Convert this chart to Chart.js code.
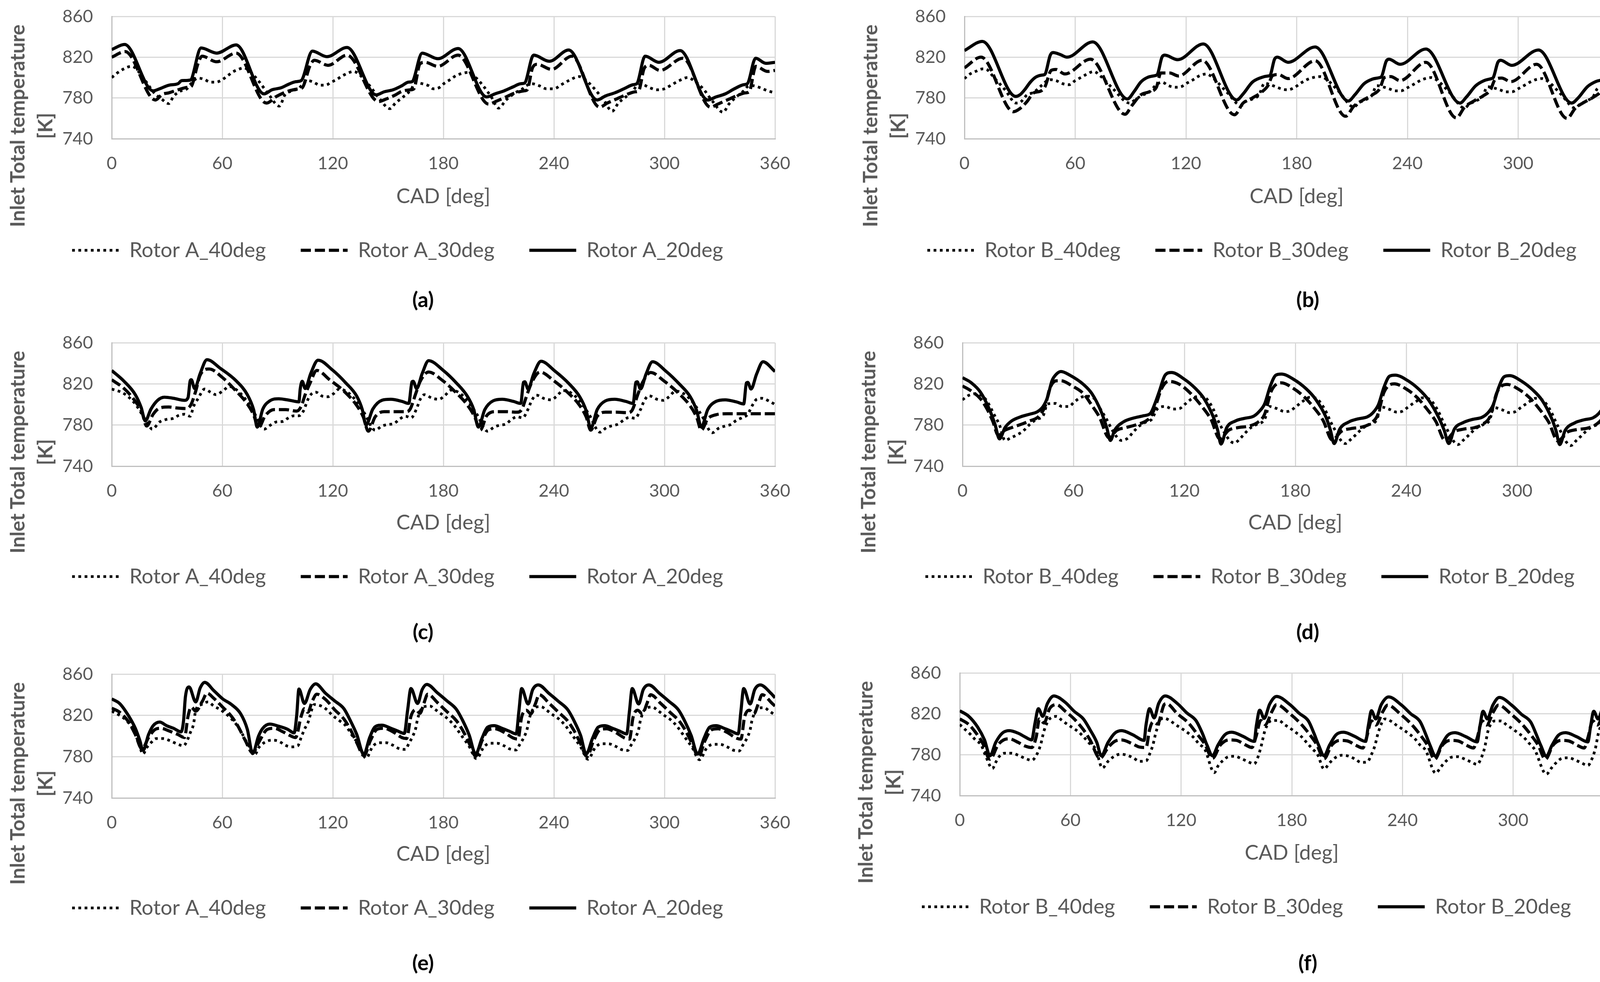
<!DOCTYPE html>
<html>
<head>
<meta charset="utf-8">
<script src="https://cdn.jsdelivr.net/npm/chart.js@4.4.1/dist/chart.umd.min.js"></script>
<style>
  html, body { margin: 0; padding: 0; background: #fff; overflow: hidden; }
  body { width: 4219px; height: 2513px; position: relative; font-family: Lato, sans-serif; }
  canvas { position: absolute; }
  .ytitle { position: absolute; transform: translate(-50%, -50%) rotate(-90deg); white-space: nowrap; text-align: center;
            font: bold 51px Lato, sans-serif; line-height: 71px; color: #595959; }
  .tag { position: absolute; transform: translate(-50%, -50%); font: bold 54px Lato, sans-serif; color: #000; }
</style>
</head>
<body>
<script>
// axis ticks
const cadTicks = [0, 60, 120, 180, 240, 300, 360];
const tempTicks = [740, 760, 780, 800, 820, 840, 860];

// series: [CAD deg, inlet total temperature K]
const a20 = [[0,827.5],[7,832.5],[22.5,787],[26,789],[31,792.5],[36,794],[38,797],[42.6,797.5],[48.5,829],[57,824],[67.5,832],[82.7,784],
  [87,788],[92,790],[95.5,793],[100,796],[102.8,797],[108.9,826],[116.8,820.5],[127.7,829.5],[143.6,783],
  [147.8,786],[152.7,788],[157.5,792],[161,795.5],[163,796],[168.5,824],[177,818.5],[188,828.5],[203.5,781],
  [208,784],[213,787],[218,791],[222,794],[224,794.5],[229,822],[237.5,816],[248,827],[263.5,778],
  [268,782],[273,785],[278,789],[283,793],[285,794],[289.5,821],[297,815],[308.5,826.5],[323.5,778],
  [328,781],[333,784],[338,789],[343,793],[345,794],[349.5,819],[355,814],[360,815]];
const a30 = [[0,820],[7.3,825.5],[23.7,778],[27.4,783.5],[31,785],[36,788],[41.4,790.5],[43,791],[46.8,813.5],[49,821],[57,815.5],[67.5,824],[84,775],
  [89.4,781.5],[95.5,786.5],[101.6,789],[103.4,790],[107.7,812],[110,817],[117.4,812],[127.7,822],[144.8,776.5],
  [149,779],[154,783],[157.5,786.5],[162.4,788],[164,789],[167.3,813.5],[170,815],[177,811],[188,822],[204.6,774],
  [209,777],[214,781],[219,785],[224,787],[225.5,788],[228.5,810],[231,813],[238.8,808],[249.7,821],[264.8,771],
  [269,775],[274,779],[279,783],[284,786],[286,787],[289,809],[291.5,812],[297.6,807],[310,819],[325,771],
  [329,774],[334,778],[339,782],[344,785],[346,786],[349.6,811],[356,806],[360,807]];
const a40 = [[0,800],[3,804.5],[6,808],[9,810.5],[11,811],[15,805],[19,795],[23,785],[27,779],[31,774.5],[33.5,781.5],[37,786.5],[40.8,789],[43,794],[46.8,799.5],[50.5,798],[53.5,795.5],[56.6,795.5],[59.6,797.5],[62.7,801.5],[65.7,805.5],[68.7,808],[71.7,809.5],[75,806],[80,796],[85,784],[91,772],
  [94,783],[98,787],[101.6,789.5],[104.6,795.5],[106.5,797],[109.5,795.5],[113,792.5],[116,792.5],[119.2,795.5],[122,798],[125,801.5],[128.3,804.5],[131.4,806],[135,802],[140,792],[145,780],[151,769.5],
  [154,775],[157.5,780],[162.4,788],[164.8,795],[168.5,794],[172,792],[174.6,789],[177.6,790],[180.6,794.5],[183.7,798],[187,802],[193.5,805],[197,801],[202,791],[206,781],[210,770],
  [214,778],[219,785],[223,789],[225,792],[228,794],[232,792],[236,789],[240,789],[244,793],[248,797],[253.8,801],[257,798],[262,789],[267,778],[271.6,767],
  [275,775],[279,781],[283,787],[285,792],[288,793],[292,790],[296,788],[300,789],[304,793],[308,797],[312.6,800],[316,797],[321,789],[326,777],[331.8,766],
  [335,774],[339,781],[343,787],[345,791],[348,792],[352,790],[356,787],[360,785]];

const b20 = [[0,826.5],[9.7,835.5],[27.8,781.5],[30,783],[32.6,788],[35.7,795.5],[38.7,800.5],[42.3,802.5],[43.5,803],[46.5,822],[48,824.5],[52,822.5],[55.6,820],[69.5,835],[88.3,779],
  [92,786.5],[95.5,795.5],[99,800],[103.4,802],[104.5,803],[107,820],[108.5,822],[115.5,817.5],[129.4,833],[147.5,778],
  [151,784],[156,795.5],[160.8,800],[164.4,801.5],[165.5,802],[168,818],[169.5,820],[175.3,815],[190,830],[208,777],
  [211.5,783],[216.5,794],[221,798.5],[225,800],[226,801],[228.5,816],[230,818],[236,813],[250,828],[268.5,775],
  [272,781],[277,792],[281.5,797],[285.5,799],[286.5,800],[289,815],[290.5,817],[296.5,812],[311,827],[329,775],
  [332.5,780],[337.5,791],[342,796],[346,798],[347,799],[349.5,813],[351,815],[357,812.5],[360,814]];
const b30 = [[0,809.5],[9,820],[26.6,766.5],[30,769.5],[33.9,776.5],[37.5,785],[41,786.5],[43.5,790.5],[47,807],[49.6,808],[54.4,803.5],[68.3,818],[87,764],
  [90.7,772.5],[95.5,783],[100,786],[104,790.5],[106.4,804.5],[111.2,804.5],[116,801.5],[128.8,817],[146.3,763.5],
  [151,775],[156,780],[160.8,785.5],[164.4,792],[167,802],[170,803],[175.3,799],[190,816.5],[206.5,762],
  [211,772],[216,778],[221,783],[225,789],[227.5,800],[231,801],[236,797],[250,815],[266.5,760.5],
  [271,771],[276,777],[281,782],[285,788],[287.5,798],[291,799.5],[296,796],[310,813],[326.5,760],
  [331,770],[336,776],[341,781],[345,787],[347.5,797],[351,798],[356,795.5],[360,797]];
const b40 = [[0,799],[3,803.5],[6,806],[10,808.5],[12,808],[16,800],[22,788],[28,775],[30,775.5],[33.9,783],[37.5,785.5],[42.3,793],[46,798],[49.6,797],[53.2,794],[56.8,793],[60,797],[63,800],[66.5,803.5],[70,806],[74,801],[80,790],[89.5,775],
  [93,779],[96.7,783],[100,785.5],[104,793],[107,795.5],[110.6,792],[114.3,790.5],[117.3,791],[121,795],[124,798],[127.6,802],[131.2,803.5],[135,799],[142,786],[150,772.5],
  [152.4,776.5],[156,779],[159.6,783],[162.6,794.5],[165.7,793],[168.7,791],[172.4,788.5],[175.4,788],[179,790.5],[182.6,795],[187,799],[193,801],[197,797],[203,786],[211,771],
  [213.5,775],[217,778],[220.5,782],[223.5,792],[226.5,791],[230,789],[233.5,787],[236.5,787],[240,790],[244,794],[248,798],[253,800],[257,796],[263,785],[271,770],
  [273.5,774],[277,777],[280.5,781],[283.5,791],[286.5,790],[290,788],[293.5,786],[296.5,786],[300,789],[304,793],[308,797],[313,799],[317,795],[323,784],[331,770],
  [333.5,774],[337,777],[340.5,781],[343.5,790],[347,789],[351,787],[355,785.5],[360,785]];

const c20 = [[0,833],[6.7,822.5],[12.8,809.5],[16,797],[18.2,784],[21.3,795.5],[24.9,804],[28.6,807],[33.5,806],[39.5,804],[41.4,806.5],[42.6,823],[43.2,824],[45,815.5],[48,830],[51.7,843.5],[59,835],[67.5,823],[73.6,809.5],[77,795],[79,778],
  [82,795.5],[85.8,803.5],[90.6,805.5],[96.7,804],[101.6,802.5],[102.3,815],[103.4,822.5],[105,815.5],[108,830],[112,843],[119.8,833.5],[127,821],[133,808],[136,795],[138,780],
  [141.7,795.5],[146.6,804],[151.5,805],[157.5,803],[161.2,801],[163,822],[163.6,822.5],[165.5,815.5],[168.5,830],[172,842.5],[180,833],[187,821],[193,808],[196.5,795],[199,778],
  [202.5,795],[207,803.5],[212,805],[218,803],[222,801],[223.5,821.5],[224.2,822],[226,815],[229,829.5],[233,842],[240.5,832.5],[248,820.5],[254,807.5],[257.5,794],[260,777],
  [263.5,795],[268,803.5],[273,805],[279,803],[283,801],[284.5,821.5],[285.2,822],[287,815],[290,829.5],[293.5,841.5],[301,832],[308,820],[314,807.5],[317.5,794],[320,778],
  [323.5,795],[328,803],[333,804.5],[339,802.5],[343,800.5],[344.5,821],[345.2,821.5],[347,815],[350,829.5],[353.5,841.5],[360,832]];
const c30 = [[0,824],[6.7,815.5],[12.8,803],[16.5,792],[18.9,779],[22.5,790.5],[26,796.5],[31,797.5],[35.9,796.5],[40.8,796],[43.2,800.5],[45.6,813],[48,828.5],[52.9,834.5],[60.2,826],[67.5,813],[73.6,800.5],[77,790],[79.7,777.5],
  [83.3,789],[88,795],[94.3,795],[100.4,793.5],[102.8,798],[105,809.5],[107.7,821],[111.3,833],[118.6,823.5],[126,813],[133,799],[136.5,788],[139.3,774],
  [143,788],[147.8,793],[154,793],[160,793],[162,795.5],[165,810.5],[167.3,822],[172,831.5],[179.4,823.5],[186,813],[193,799.5],[197,788],[200,775],
  [203.5,789],[208,793],[214,793],[220,792.5],[222.5,795],[225.5,810],[228,821.5],[232.5,831.5],[240,823],[247,812.5],[254,799],[257.5,788],[260,775],
  [263.5,788.5],[268,792.5],[274,792.5],[280,792],[282.5,794.5],[285.5,809.5],[288,821],[292.5,831],[300,822.5],[307,812],[314,798.5],[317.5,787.5],[320,775],
  [323.5,786],[328,790],[334,791],[340,791],[345,791],[350,791],[355,791],[360,791]];
const c40 = [[0,815],[6.7,810.5],[12.8,800.5],[16.4,790.5],[20,780],[22,776],[26,783],[29.8,785.5],[33.5,786.5],[36.5,789.5],[39.5,790.5],[42.6,788.5],[44.4,798],[46.8,805.5],[50.5,815],[53.5,812],[56.6,809.5],[60.2,813],[63.9,817.5],[67.5,814.5],[72.4,805.5],[77,793],[82.7,776],
  [85.8,779.5],[89.4,783],[93,783.5],[95.5,786.5],[99,789],[101.6,789],[104,793.5],[106.4,804.5],[108.3,810],[110.7,812],[114.4,808],[117.4,807.5],[120.4,810.5],[123.5,815],[127,813],[132,805],[137,792],[143,775],
  [146.6,779],[150,780.5],[153.3,781.5],[156.4,786],[159.5,788.5],[162.5,787],[165.5,796],[167.3,804.5],[169.7,809.5],[174,806],[177.6,805],[180.7,808.5],[184.3,814],[188,812],[193,804],[198,791],[204,774],
  [207.5,778],[211,780],[214,781],[217,785.5],[220,788],[223,787],[226,795.5],[228,804],[230.5,809],[235,805.5],[238.5,804.5],[241.5,808],[245,813.5],[249,811.5],[254,803.5],[259,790.5],[265,773],
  [268.5,777.5],[272,779.5],[275,781],[278,785],[281,787.5],[284,786.5],[287,795],[289,803.5],[291.5,808.5],[296,805],[299.5,804],[302.5,807.5],[306,813],[310,811],[315,803],[320,790],[326,772.5],
  [329.5,777],[333,779],[336,780.5],[339,784.5],[342,787],[345,790],[348,800],[350,805],[353,806],[357,803],[360,800]];

const d20 = [[0,826],[4.8,821],[9.7,812],[14.5,795.5],[17.6,780.5],[20,766.5],[23,777.5],[26.6,784],[31.5,788],[36.3,790.5],[40.6,793],[43.6,798],[46,807],[48.4,823],[50.8,829.5],[53.3,832],[58,828.5],[65.4,819.5],[70,810.5],[75,793],[78,777.5],[80,765],
  [82.3,775],[87,783],[92,786.5],[98,789],[101.7,791.5],[104,800.5],[106.5,813],[109.6,828.5],[113,831],[120,824.5],[126,815.5],[130.7,805.5],[135.6,788],[138,775],[139.8,761.5],
  [142.9,777.5],[147.7,784],[152.5,786.5],[157.4,788.5],[160.4,793],[163.4,800.5],[166.5,818],[169.5,828.5],[172.5,829.5],[179,824.5],[186,815],[191,805],[196.5,788],[199,775],[201,762],
  [204,776],[209,783],[214,786],[219,788],[222,792],[225,800],[228,817],[231,827.5],[234,828.5],[240.5,823.5],[247,814.5],[252,804.5],[257.5,787.5],[260.5,775],[263,762],
  [266,776],[271,782.5],[276,785.5],[281,787.5],[284,791.5],[287,799.5],[290,816.5],[293,827],[296,828],[302,823],[308.5,814],[313.5,804],[318.5,787],[321,774.5],[323,761],
  [326,775],[331,782],[336,785],[341,787],[344,791],[347,799],[350,816],[353,827],[356,828],[360,823]];
const d30 = [[0,818],[4.8,813],[9.7,805.5],[13.3,795.5],[16.3,784],[19.4,770],[23,775],[26.6,777.5],[31.5,780.5],[36.3,784],[41,788],[44.8,799],[47.2,815.5],[50.8,823],[53.3,823],[59.3,818],[65.4,810.5],[70,799],[74,788],[79.3,767.5],
  [83.5,775],[88.4,777.5],[94.4,780.5],[99.3,784],[101.7,788],[104,796.5],[107.7,815.5],[111.4,822.5],[117.4,819.5],[123.5,810.5],[129.5,798],[134.4,785.5],[139.2,766.5],
  [144,775],[149,777.5],[155,779],[160,783],[163.4,790.5],[167,813],[172.5,821],[179,815.5],[185,807],[190,797],[195,784.5],[200,765.5],
  [205,774],[210,776.5],[216,778],[221,782],[224.5,789.5],[228,812],[233.5,820],[240,815],[246,806.5],[251,796],[256,783.5],[261,765],
  [266,773.5],[271,776],[277,777.5],[282,781.5],[285.5,789],[289,811.5],[294.5,819.5],[301,814.5],[307,806],[312,795.5],[317,783],[322,764.5],
  [327,773],[332,775.5],[338,777],[343,781],[346.5,788.5],[350,811],[355.5,819],[360,815]];
const d40 = [[0,804.5],[3,808.5],[7.3,810.5],[10.9,808],[13.3,803],[17,790.5],[20,780],[23,765],[26,767.5],[29,770],[32.7,774],[36.3,780.5],[40,785.5],[43.6,789],[46,800.5],[50.2,801],[53.9,798],[57.5,798],[60.5,802.5],[64.2,807],[67.8,808],[71.4,805.5],[73.8,798],[76.3,790.5],[78.7,783],[81,775],[86,765],
  [89.6,767.5],[92,772.5],[95.6,779],[99.3,783],[102.3,785.5],[105.3,795.5],[109.6,798],[113.8,795.5],[117.4,796],[120.5,800.5],[124,805.5],[128,808],[132,805.5],[135.6,795.5],[139.2,780.5],[147,762.5],
  [150,766.5],[152.5,771.5],[156,777.5],[159,780.5],[163.4,785.5],[165.9,798],[170,796],[174.3,793],[177.4,794],[180.4,798],[184,803],[188,807],[192,805],[196,795],[200,780],[207,762],
  [210,766],[213,771],[216.5,777],[219.5,780],[224,785],[226.5,797.5],[230.5,795.5],[235,792.5],[238,793.5],[241,797.5],[245,802.5],[249,806.5],[253,804.5],[257,794.5],[261,779.5],[268,761],
  [271,765.5],[274,770.5],[277.5,776.5],[280.5,779.5],[285,784.5],[287.5,797],[291.5,795],[296,792],[299,793],[302,797],[306,802],[310,806],[314,804],[318,794],[322,779],[329,760],
  [332,765],[335,770],[338.5,776],[341.5,779],[346,784],[348.5,796],[352.5,794.5],[357,791],[360,790]];

const e20 = [[0,836],[4.3,831.5],[9,820],[12.8,807.5],[15.2,796],[17,786],[20,801.5],[22.5,810],[26,813.5],[29.8,810],[33.5,807.5],[37.7,804],[39,815],[40,838],[42,847.5],[45.6,833],[48,846.5],[50.5,852],[55.4,844],[60.2,836],[65,830.5],[70,821.5],[73.6,806.5],[76.5,783],
  [79.7,800],[82,807.5],[85.8,811.5],[90.6,809.5],[95.5,806.5],[99,803],[100.4,820],[101.6,845.5],[104.6,831.5],[107.7,845],[110.7,850.5],[116,841.5],[121,834],[126,826.5],[129.5,815],[133,801.5],[136.8,782],
  [140,798.5],[143,809],[146.6,810.5],[151.5,807.5],[155,805],[158.8,802.5],[160.6,825],[162.4,846],[166,831.5],[168.5,845],[171,850],[177,841.5],[182,834],[187,826],[190.5,815],[194,801],[197.5,782.5],
  [201,798],[204,808.5],[207.5,810],[212.5,807],[216,804.5],[219.5,802],[221,824],[222.5,846],[226,831],[228.5,845],[231.5,849.5],[237.5,841],[242.5,833.5],[247.5,825.5],[251,814.5],[254.5,800.5],[257.5,782.5],
  [261,798],[264,808.5],[267.5,810],[272.5,807],[276,804.5],[279.5,802],[281,824],[282.5,846],[286,831],[288.5,845],[291.5,849.5],[297.5,841],[302.5,833.5],[307.5,825.5],[311,814.5],[314.5,800.5],[318,782.5],
  [321.5,798],[324.5,808.5],[328,810],[333,807],[336.5,804.5],[340,802],[341.5,824],[343,846],[346.5,831],[349,845],[352,849.5],[358,841],[360,837]];
const e30 = [[0,827],[4.3,823],[9,814],[12.8,801.5],[16.4,787.5],[20,798.5],[23.7,806.5],[26.8,807.5],[31,805],[35.9,801.5],[39.5,798.5],[41.4,819],[43.2,828],[45.6,824],[49.3,834],[51.7,841.5],[55.4,836.5],[60.2,828],[65,819],[68.7,809],[72.4,796],[76.6,783.5],
  [79.7,793.5],[84.5,806.5],[88.2,807.5],[93,804],[96.7,800.5],[99.8,798.5],[102.8,819],[104.6,826.5],[106.4,823],[108.9,834],[111.3,840.5],[116,835.5],[121,825.5],[126,816.5],[129.5,806.5],[133,793.5],[136.9,781],
  [140.5,796],[144,806.5],[147.8,807.5],[152.7,804],[157.5,798.5],[160,797.5],[162.4,819],[165,825.5],[167.3,822],[169.5,832],[171.5,840.5],[177,832],[182,823.5],[187,815],[190.5,805.5],[194,793],[197.5,780.5],
  [201,795.5],[204.5,806],[208,807],[213,803.5],[218,798],[220.5,797],[222.5,818.5],[225,825],[227.5,821.5],[230,831.5],[232,840],[237.5,831.5],[242.5,823],[247.5,814.5],[251,805],[254.5,792.5],[258,780],
  [261.5,795.5],[265,806],[268.5,807],[273.5,803.5],[278.5,798],[281,797],[283,818.5],[285.5,825],[288,821.5],[290.5,831.5],[292.5,840],[298,831.5],[303,823],[308,814.5],[311.5,805],[315,792.5],[318.5,780],
  [322,795.5],[325.5,806],[329,807],[334,803.5],[339,798],[341.5,797],[343.5,818.5],[346,825],[348.5,821.5],[351,831.5],[353,840],[358.5,831.5],[360,829]];
const e40 = [[0,824],[4.3,820],[8,815],[11.6,806.5],[14.6,793.5],[17,782.5],[18.9,788.5],[21.3,793.5],[24.3,797.5],[28,797.5],[31.6,795.5],[35.3,792.5],[39,790.5],[40.8,795],[42.6,803],[44.4,811.5],[45.6,825],[48.7,830.5],[52.3,833],[55.4,829],[59,825.5],[62,821.5],[64.5,817.5],[67.5,811.5],[71,801.5],[74.2,791],[77.9,782.5],
  [79.7,788.5],[82.7,793.5],[87,796],[90.6,795],[94.3,791],[97.3,789.5],[101,790.5],[102.8,798.5],[104.6,806.5],[106.4,812.5],[110,830.5],[113.8,829],[116.8,825.5],[119.8,820],[123.5,815],[127,810],[130.7,800],[134.4,791],[138,778.5],
  [141.7,790],[145.4,793.5],[149,793.5],[152.7,791],[155.7,788],[159.4,787],[161.2,792.5],[163,798.5],[165,807.5],[166,816.5],[169,828],[172.7,829],[175.7,825.5],[178.8,821.5],[182.5,816.5],[186,810],[190,800],[194,790],[198,778],
  [202,789.5],[205.5,793],[209,793],[213,790.5],[216,787.5],[219.5,786.5],[221.5,792],[223.5,798],[225.5,807],[226.5,816],[229.5,827.5],[233,828.5],[236,825],[239,821],[243,816],[246.5,809.5],[250.5,799.5],[254.5,789.5],[258.5,777.5],
  [262.5,789],[266,792.5],[269.5,792.5],[273.5,790],[276.5,787],[280,786],[282,791.5],[284,797.5],[286,806.5],[287,815.5],[290,827],[293.5,828],[296.5,824.5],[299.5,820.5],[303.5,815.5],[307,809],[311,799],[315,789],[319,777],
  [323,788.5],[326.5,792],[330,792],[334,789.5],[337,786.5],[340.5,785.5],[342.5,791],[344.5,797],[346.5,806],[347.5,815],[350.5,826.5],[354,827.5],[357,824],[360,820.5]];

const f20 = [[0,823],[4.9,817.5],[9.7,807],[13.4,794.5],[16.4,779],[19.5,792],[23,801],[26.8,803.5],[31.7,801],[35.3,797.5],[39,794.5],[40.8,811],[42.6,825],[45,817.5],[47.5,830],[51,837.5],[57,831.5],[62,822.5],[67,815],[70.6,804.5],[74.3,792],[76.7,779],
  [80.4,792],[84,801],[87.7,803.5],[93.8,799.5],[99.9,794],[101,809.5],[102.9,825],[105.4,816],[107.8,830],[111.4,837.5],[118,830],[123,821],[128,813.5],[131.5,801],[134,789.5],[137,779],
  [140,789.5],[143.7,799.5],[147.4,802],[153.5,798],[159.6,793],[160.8,808.5],[162.6,823.5],[165,815.5],[168,829.5],[171.7,837],[179,829],[184,820.5],[189,813],[192,801],[194.5,789.5],[197.5,779],
  [200.5,789.5],[204,799.5],[208,802],[214,798],[220,793],[221.5,808.5],[223.2,823],[225.5,815],[228.5,829],[232.5,836.5],[239.5,828.5],[244.5,820],[249.5,812.5],[252.5,800.5],[255,789],[258,778.5],
  [261,789],[264.5,799],[268.5,801.5],[274.5,797.5],[280.5,792.5],[282,808],[283.7,822.5],[286,815],[289,828.5],[292.5,836],[299.5,828],[304.5,819.5],[309.5,812],[312.5,800],[315,789],[318,778.5],
  [321,789],[324.5,799],[328.5,801.5],[334.5,797.5],[340.5,792.5],[342,808],[343.7,822.5],[346,815],[349,828.5],[352.5,836],[357,831],[360,823]];
const f30 = [[0,815],[4.9,809.5],[8.5,802],[12.2,792],[16.4,775.5],[20.7,789.5],[23.8,794.5],[26.8,795.5],[31.7,792],[35.3,788.5],[39,787],[41.4,797],[43.2,815],[45.7,811],[48.7,825],[52.4,829],[57.2,822.5],[62,815],[67,804.5],[70.6,794.5],[76,776.5],
  [80.4,787],[84,793],[87.7,794.5],[93.8,790.5],[97.4,787.5],[101,787],[102.9,804.5],[104.7,812],[107.2,810],[110.8,829],[112,830],[118,820],[124,811],[129,799.5],[132.8,790.5],[137,776.5],
  [141.3,789.5],[146,794.5],[150,794],[155,789.5],[158.4,787],[160.5,797],[163.2,813.5],[165.6,809.5],[169.3,822.5],[171.7,829],[179,820],[185,810],[190,799],[193.5,790],[197.5,776],
  [201.5,789],[206,794],[210,793.5],[215,789],[218.5,786.5],[220.5,796.5],[223.2,813],[225.6,809],[229.3,822],[232,828.5],[239,819.5],[245,809.5],[250,798.5],[253.5,789.5],[257.5,775.5],
  [261.5,789],[266,794],[270,793.5],[275,789],[278.5,786.5],[280.5,796.5],[283.2,813],[285.6,809],[289.3,822],[292,828.5],[299,819.5],[305,809.5],[310,798.5],[313.5,789.5],[317.5,775.5],
  [321.5,789],[326,794],[330,793.5],[335,789],[338.5,786.5],[340.5,796.5],[343.2,813],[345.6,809],[349.3,822],[352,828.5],[359,819.5],[360,818]];
const f40 = [[0,809.5],[3,804.5],[6,799.5],[8.5,794.5],[11.6,789.5],[14,779],[17.7,766.5],[19.5,772.5],[21.3,778],[24.4,781.5],[28,781.5],[31.7,779.5],[35.3,776.5],[39,774.5],[41.4,779],[43.8,789.5],[45.7,803.5],[48.7,815],[52.4,817.5],[55.4,813.5],[58.5,809.5],[61.5,806],[64.6,802],[67.6,796.5],[70.6,790.5],[73.7,785.5],[77.3,767],
  [80.4,773.5],[83.4,778],[87,780.5],[90.7,779.5],[94.4,776.5],[97.4,773.5],[101,774],[102.9,780.5],[104.7,789.5],[106.6,803.5],[110.2,816],[113.8,813.5],[116.9,809.5],[120,806],[123.6,801.5],[126.7,797],[129.7,790.5],[132.8,785.5],[138,762.5],
  [140,769],[142.5,774],[145.6,778],[149,778.5],[152.8,776],[155.9,773.5],[159.6,771],[161.4,776.5],[163.2,787],[165.6,804.5],[169.3,813.5],[172.9,813.5],[176,809.5],[179,806],[182,802],[185,798],[188,792],[191,786],[194,780],[197.5,766],
  [200.5,772],[203.5,777],[207,779.5],[211,778.5],[214.5,775.5],[217.5,772.5],[221,773],[223,779.5],[225,788.5],[227,802.5],[230.5,815],[234,812.5],[237,808.5],[240,805],[243.5,800.5],[246.5,796],[249.5,789.5],[252.5,784.5],[258,762],
  [261,768.5],[263.5,773.5],[266.5,777.5],[270,778],[274,775.5],[277,773],[280.5,770.5],[282.5,776],[284.5,786.5],[286.5,804],[290,813],[293.5,813],[296.5,809],[299.5,805.5],[302.5,801.5],[305.5,797.5],[308.5,791.5],[311.5,785.5],[318,761],
  [321,767.5],[323.5,772.5],[326.5,776.5],[330,777],[334,774.5],[337,772],[340.5,769.5],[342.5,775],[344.5,785.5],[346.5,803],[350,812],[353.5,812],[357,808],[360,805]];

const seriesNames = ['_40deg', '_30deg', '_20deg'];

// panel placement on the page (pixels)
const panels = [
  { tag: '(a)', rotor: 'A', series: [a40, a30, a20], plotLeft: 286,  plotRight: 1984, plotTop: 42,   plotBottom: 355,  legendX: 1018, tagX: 1083, tagY: 765 },
  { tag: '(b)', rotor: 'B', series: [b40, b30, b20], plotLeft: 2469, plotRight: 4170, plotTop: 42,   plotBottom: 355,  legendX: 3205, tagX: 3348, tagY: 765 },
  { tag: '(c)', rotor: 'A', series: [c40, c30, c20], plotLeft: 286,  plotRight: 1984, plotTop: 877,  plotBottom: 1193, legendX: 1018, tagX: 1083, tagY: 1615 },
  { tag: '(d)', rotor: 'B', series: [d40, d30, d20], plotLeft: 2464, plotRight: 4168, plotTop: 877,  plotBottom: 1193, legendX: 3200, tagX: 3348, tagY: 1615 },
  { tag: '(e)', rotor: 'A', series: [e40, e30, e20], plotLeft: 286,  plotRight: 1984, plotTop: 1725, plotBottom: 2042, legendX: 1018, tagX: 1083, tagY: 2462 },
  { tag: '(f)', rotor: 'B', series: [f40, f30, f20], plotLeft: 2457, plotRight: 4157, plotTop: 1722, plotBottom: 2036, legendX: 3191, tagX: 3348, tagY: 2462 },
];

const lineStyles = [
  { borderWidth: 7, borderDash: [7, 9] },
  { borderWidth: 8, borderDash: [26, 10] },
  { borderWidth: 8, borderDash: [] },
];

const GRAY = '#595959';
const TICK_FONT = 45;
const LEGEND_FONT = 53;
const LEGEND_PAD = 89;
const TOP_PAD = 42;

function addDiv(cls, html, x, y) {
  const d = document.createElement('div');
  d.className = cls;
  d.innerHTML = html;
  d.style.left = x + 'px';
  d.style.top = y + 'px';
  document.body.appendChild(d);
}

function makePanel(p) {
  const left = p.plotLeft - 300;
  const right = 2 * p.legendX - left;
  const W = right - left;
  const padR = right - p.plotRight;
  const yWidth = p.plotLeft - left - padR;
  const top = p.plotTop - TOP_PAD;
  const legendY = p.plotTop + 598 - top;
  const H = Math.round(legendY + LEGEND_FONT / 2 + 10);
  const legendH = LEGEND_FONT + LEGEND_PAD + 10;
  const xHeight = H - legendH - TOP_PAD - (p.plotBottom - p.plotTop);
  const titleLH = 0.8 * LEGEND_FONT;
  const titlePadBottom = (H - legendH) - titleLH / 2 - (p.plotTop + 461 - top);

  const canvas = document.createElement('canvas');
  canvas.width = W;
  canvas.height = H;
  canvas.style.left = left + 'px';
  canvas.style.top = top + 'px';
  document.body.appendChild(canvas);

  new Chart(canvas.getContext('2d'), {
    type: 'line',
    data: {
      datasets: p.series.map((s, i) => ({
        label: 'Rotor ' + p.rotor + seriesNames[i],
        data: s.map(([x, y]) => ({ x, y })),
        borderColor: '#000',
        backgroundColor: '#000',
        borderWidth: lineStyles[i].borderWidth,
        borderDash: lineStyles[i].borderDash,
        borderCapStyle: 'butt',
        pointRadius: 0,
        cubicInterpolationMode: 'monotone',
        fill: false,
      })),
    },
    options: {
      responsive: false,
      animation: false,
      devicePixelRatio: 1,
      layout: { padding: { top: TOP_PAD, left: padR, right: padR, bottom: 0 } },
      plugins: {
        tooltip: { enabled: false },
        legend: {
          position: 'bottom',
          labels: {
            usePointStyle: true,
            pointStyle: 'line',
            pointStyleWidth: 120,
            padding: LEGEND_PAD,
            color: GRAY,
            font: { family: 'Lato', size: LEGEND_FONT },
            generateLabels: chart => chart.data.datasets.map((ds, i) => ({
              text: ds.label,
              fillStyle: '#000',
              strokeStyle: '#000',
              fontColor: GRAY,
              lineWidth: ds.borderWidth,
              lineDash: ds.borderDash,
              lineCap: 'butt',
              pointStyle: 'line',
              hidden: false,
              datasetIndex: i,
            })),
          },
        },
      },
      scales: {
        x: {
          type: 'linear',
          min: 0, max: 360,
          afterBuildTicks: s => { s.ticks = cadTicks.map(v => ({ value: v })); },
          afterFit: s => { s.height = xHeight; s.paddingLeft = 0; s.paddingRight = 0; },
          grid: { color: '#d9d9d9', lineWidth: 3, drawTicks: false },
          border: { color: '#bfbfbf', width: 3 },
          ticks: { color: GRAY, padding: 36, maxRotation: 0, font: { family: 'Lato', size: TICK_FONT } },
          title: {
            display: true, text: 'CAD [deg]', color: GRAY,
            font: { family: 'Lato', size: LEGEND_FONT, lineHeight: 0.8 },
            padding: { top: 0, bottom: titlePadBottom },
          },
        },
        y: {
          type: 'linear',
          min: 740, max: 860,
          afterBuildTicks: s => { s.ticks = tempTicks.map(v => ({ value: v })); },
          afterFit: s => { s.width = yWidth; s.paddingTop = 0; s.paddingBottom = 0; },
          grid: { color: '#d9d9d9', lineWidth: 3, drawTicks: false },
          border: { color: '#bfbfbf', width: 3 },
          ticks: { color: GRAY, padding: 48, font: { family: 'Lato', size: TICK_FONT } },
        },
      },
    },
  });

  addDiv('ytitle', 'Inlet Total temperature<br>[K]', p.plotLeft - 207, p.plotTop + 280);
  addDiv('tag', p.tag, p.tagX, p.tagY);
}

Promise.all([
  document.fonts.load('45px Lato'),
  document.fonts.load('bold 51px Lato'),
]).catch(() => {}).then(() => panels.forEach(makePanel));
</script>
</body>
</html>
